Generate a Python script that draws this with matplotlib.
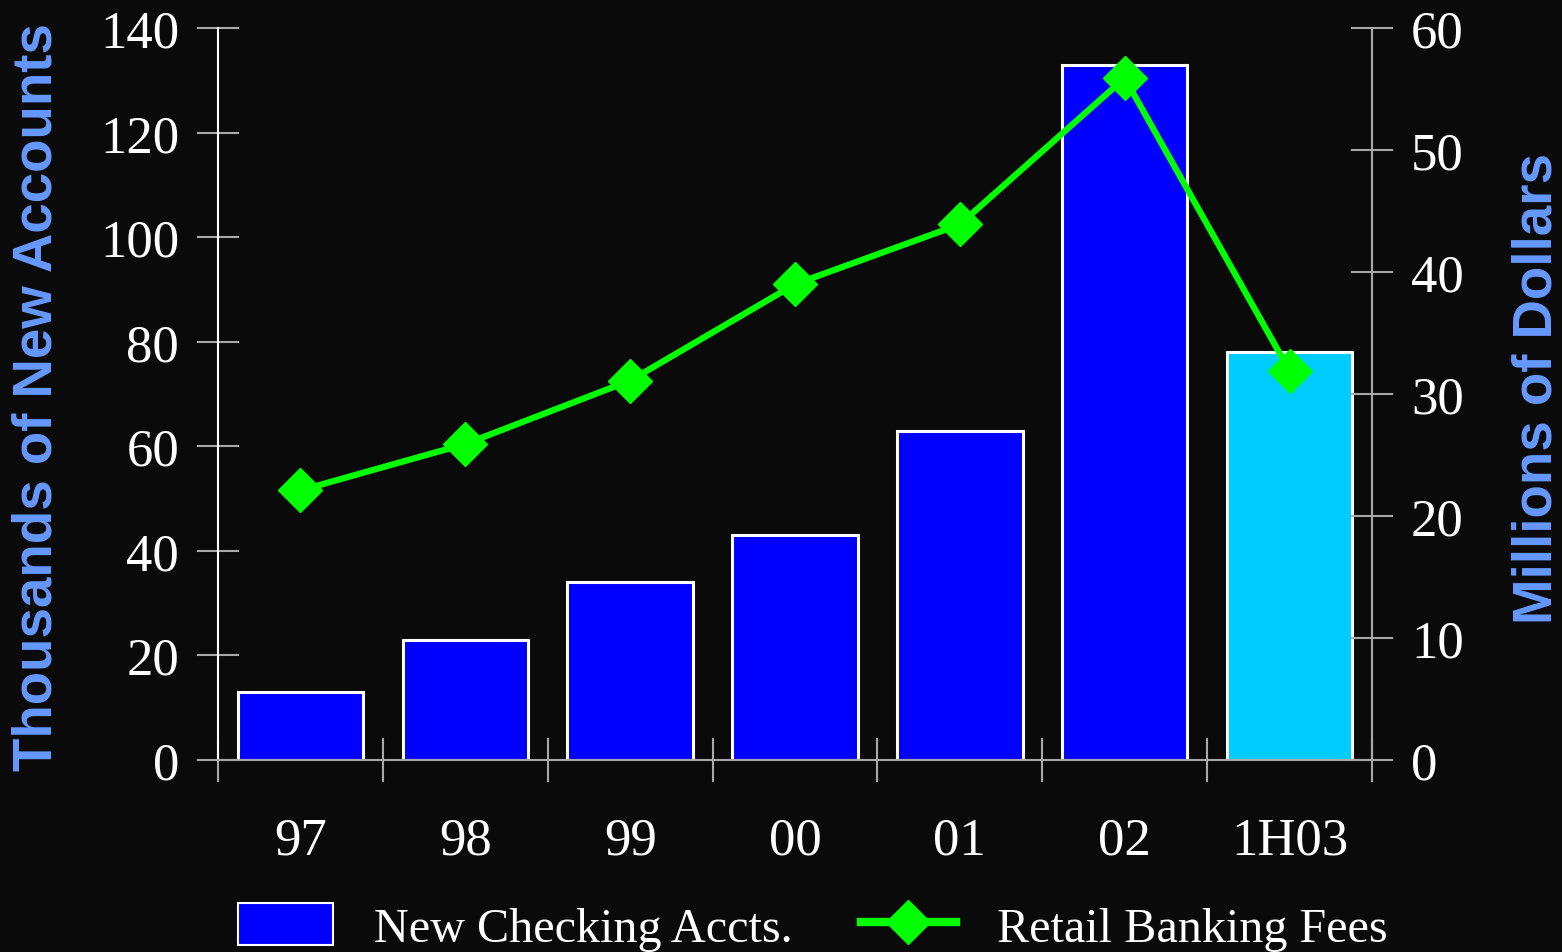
import matplotlib
matplotlib.use("Agg")
import matplotlib.pyplot as plt
from matplotlib.patches import Patch
from matplotlib.lines import Line2D

categories = ["97", "98", "99", "00", "01", "02", "1H03"]
new_accounts = [13, 23, 34, 43, 63, 133, 78]          # thousands
fees = [22.1, 25.9, 31.1, 39.0, 43.9, 55.9, 31.9]     # millions of dollars
bar_colors = ["#0000FF"] * 6 + ["#00CCFF"]
left_ticks = [0, 20, 40, 60, 80, 100, 120, 140]
right_ticks = [0, 10, 20, 30, 40, 50, 60]

BG = "#0a0a0a"
GRAY = "#a8a8a8"
LABEL = "#6699FF"
SERIF = "Liberation Serif"

fig = plt.figure(figsize=(15.62, 9.53), dpi=100, facecolor=BG)
ax = fig.add_axes([218/1562, 1-761/953, (1372-218)/1562, (761-29)/953])
ax.set_facecolor(BG)
x = list(range(len(categories)))
ax.bar(x, new_accounts, width=0.76, color=bar_colors, edgecolor="white", linewidth=2.2, zorder=2)
ax.set_xlim(-0.5, len(categories) - 0.5)
ax.set_ylim(0, 140)
ax.set_yticks(left_ticks)
ax.set_yticklabels([str(t) for t in left_ticks], fontfamily=SERIF, fontsize=38, color="white")
ax.tick_params(axis="y", direction="inout", length=30, width=1.5, color=GRAY, pad=13)

ax.set_xticks([i - 0.5 for i in range(len(categories) + 1)])
ax.set_xticklabels([])
ax.tick_params(axis="x", which="major", direction="inout", length=32, width=1.5, color=GRAY)
ax.set_xticks(x, minor=True)
ax.set_xticklabels(categories, minor=True, fontfamily=SERIF, fontsize=38, color="white")
ax.tick_params(axis="x", which="minor", length=0, pad=41)

ax.spines["top"].set_visible(False)
ax.spines["left"].set_color("white")
ax.spines["left"].set_linewidth(1.5)
ax.spines["bottom"].set_color(GRAY)
ax.spines["bottom"].set_linewidth(1.5)
ax.spines["right"].set_color(GRAY)
ax.spines["right"].set_linewidth(1.5)

ax2 = ax.twinx()
ax2.set_ylim(0, 60)
ax2.plot(x, fees, color="#00FF00", linewidth=4.5, marker="D", markersize=22, zorder=3)
ax2.set_yticks(right_ticks)
ax2.set_yticklabels([str(t) for t in right_ticks], fontfamily=SERIF, fontsize=38, color="white")
ax2.tick_params(axis="y", direction="inout", length=30, width=1.5, color=GRAY, pad=13)
ax2.spines["top"].set_visible(False)
ax2.spines["left"].set_visible(False)
ax2.spines["bottom"].set_visible(False)
ax2.spines["right"].set_color(GRAY)
ax2.spines["right"].set_linewidth(1.5)

fig.text(38/1562, 1-397/953, "Thousands of New Accounts", rotation=90, ha="center", va="center",
         fontfamily="Liberation Sans", fontweight="bold", fontsize=39.3, color=LABEL)
fig.text(1537/1562, 1-389/953, "Millions of Dollars", rotation=90, ha="center", va="center",
         fontfamily="Liberation Sans", fontweight="bold", fontsize=39.3, color=LABEL)

handles = [Patch(facecolor="#0000FF", edgecolor="white", linewidth=1.5),
           Line2D([0], [0], color="#00FF00", linewidth=6, marker="D", markersize=22)]
leg = fig.legend(handles, ["New Checking Accts.", "Retail Banking Fees"], ncol=2,
                 loc="center", bbox_to_anchor=(813/1562, 1-928/953), frameon=False,
                 prop={"family": SERIF, "size": 34.7}, labelcolor="white",
                 handlelength=1.97, handleheight=0.95, handletextpad=0.85, columnspacing=1.41)

fig.savefig("out.png", dpi=100, facecolor=BG)
